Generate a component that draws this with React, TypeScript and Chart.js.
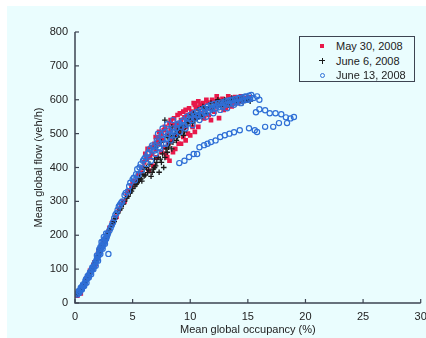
import React, { useEffect, useRef } from "react";
import { Chart, registerables } from "chart.js";

Chart.register(...registerables);

const xTicks = [0, 5, 10, 15, 20, 25, 30];
const yTicks = [0, 100, 200, 300, 400, 500, 600, 700, 800];
const seriesNames = ["May 30, 2008", "June 6, 2008", "June 13, 2008"];

const may30: [number, number][] = [
  [0.2, 22], [0.3, 30], [0.4, 35], [0.5, 28], [0.6, 45], [0.8, 55], [0.9, 62], [1.0, 72], [1.2, 80], [1.3, 95],
  [1.5, 100], [1.7, 120], [1.8, 115], [2.0, 145], [2.2, 160], [2.4, 170], [2.6, 185], [2.8, 200], [3.0, 222], [3.2, 235],
  [3.6, 255], [4.0, 290], [4.3, 300], [4.6, 330], [4.9, 345], [5.2, 360], [5.5, 380], [5.8, 400], [6.0, 415], [6.2, 425],
  [6.4, 390], [6.5, 430], [6.7, 440], [6.8, 405], [7.0, 455], [7.1, 430], [7.3, 470], [7.5, 445], [7.6, 480], [7.8, 460],
  [8.0, 495], [8.1, 470], [8.3, 510], [8.4, 480], [8.6, 525], [8.7, 495], [8.9, 530], [9.0, 505], [9.2, 540], [9.3, 515],
  [9.5, 548], [9.6, 520], [9.8, 555], [10.0, 535], [10.1, 565], [10.3, 545], [10.5, 575], [10.6, 555], [10.8, 580], [11.0, 560],
  [11.1, 590], [11.3, 570], [11.5, 592], [11.7, 575], [12.0, 595], [12.2, 580], [12.4, 600], [12.5, 546], [12.7, 585], [13.0, 598],
  [13.2, 588], [13.5, 605], [13.7, 592], [14.0, 600], [14.2, 607], [14.5, 595], [14.8, 605], [15.0, 600], [8.8, 520], [9.7, 540],
  [10.9, 585], [6.9, 470], [7.4, 490],
  [0.25, 28], [0.45, 38], [0.7, 48], [1.1, 78], [1.4, 98], [1.6, 112], [1.9, 135], [2.1, 155], [2.3, 168], [2.5, 178],
  [2.7, 190], [2.9, 210], [3.3, 240], [3.5, 252], [3.8, 275], [4.2, 300], [4.5, 320], [5.0, 355], [5.4, 365], [5.7, 385],
  [6.1, 440], [6.3, 455], [6.6, 460], [7.2, 480], [7.5, 500], [7.7, 510], [7.9, 440], [8.2, 420], [8.5, 445], [8.2, 530],
  [8.6, 545], [9.0, 470], [9.4, 490], [9.8, 500], [10.2, 520], [9.1, 560], [9.4, 565], [9.9, 575],
  [10.4, 585], [10.7, 595], [11.2, 545], [11.6, 555], [11.9, 600], [12.3, 610], [12.8, 603], [12.9, 570], [13.3, 610], [13.6, 580],
  [13.9, 608], [14.1, 590], [14.4, 610], [14.7, 598], [15.1, 607], [11.4, 600], [12.1, 565], [13.1, 575], [10.7, 520], [11.8, 540],
  [7.0, 490], [7.3, 505], [7.8, 520], [8.3, 540], [8.9, 555], [9.6, 570], [10.3, 590], [8.0, 430], [8.7, 455], [9.2, 470],
  [9.6, 480], [10.0, 495], [10.4, 505],
];

const june6: [number, number][] = [
  [0.3, 30], [0.5, 38], [0.7, 50], [0.9, 60], [1.1, 75], [1.3, 90], [1.5, 98], [1.8, 125], [2.0, 140], [2.3, 165],
  [2.6, 180], [2.9, 205], [3.1, 225], [3.4, 240], [3.7, 265], [4.0, 280], [4.3, 300], [4.6, 315], [4.9, 330], [5.2, 345],
  [5.5, 360], [5.7, 366], [6.0, 375], [6.3, 385], [6.6, 374], [6.8, 395], [7.0, 405], [7.3, 386], [7.5, 415], [7.8, 430],
  [7.8, 540], [8.0, 445], [8.2, 470], [8.4, 455], [8.6, 490], [8.8, 480], [9.0, 500], [9.2, 510], [9.4, 495], [9.6, 520],
  [9.8, 530], [10.0, 540], [10.2, 530], [10.5, 555], [10.8, 560], [11.0, 550], [11.3, 575], [11.6, 580], [11.9, 570], [12.2, 590],
  [12.5, 585], [12.8, 595], [13.1, 590], [13.4, 598], [13.7, 600], [14.0, 595], [14.3, 605], [14.6, 592], [14.9, 600], [15.2, 596],
  [6.2, 400], [7.2, 430], [8.3, 495], [9.1, 520], [10.4, 540],
  [0.2, 25], [0.4, 33], [0.6, 45], [0.8, 56], [1.0, 68], [1.2, 82], [1.4, 95], [1.6, 108], [1.7, 118], [1.9, 132],
  [2.1, 150], [2.2, 158], [2.4, 168], [2.5, 176], [2.7, 188], [2.8, 198], [3.0, 215], [3.3, 235], [3.5, 250], [3.9, 275],
  [4.2, 292], [4.5, 310], [4.8, 325], [5.0, 338], [5.3, 350], [5.6, 370], [5.9, 380],
  [5.4, 355], [5.8, 360], [6.1, 378], [6.4, 392], [6.5, 410], [6.7, 386], [6.9, 400], [7.1, 415], [7.4, 425], [7.6, 440],
  [7.7, 400], [7.9, 455], [8.1, 460], [8.5, 475], [8.7, 500], [8.9, 510], [9.3, 525], [9.5, 505], [9.7, 535], [9.9, 545],
  [7.0, 460], [7.5, 475], [8.0, 490], [8.4, 520], [8.9, 490],
  [10.1, 555], [10.3, 560], [10.6, 545], [10.7, 570], [11.1, 580], [11.4, 560], [11.8, 590], [12.0, 580], [12.4, 600], [12.7, 580],
  [13.0, 600], [13.3, 585], [13.6, 605], [13.9, 600], [14.2, 595], [14.5, 603], [14.8, 598], [15.0, 602],
  [6.0, 395], [6.9, 425],
];

const june13: [number, number][] = [
  [0.2, 25], [0.3, 35], [0.4, 30], [0.5, 45], [0.6, 40], [0.7, 55], [0.8, 50], [0.9, 65], [1.0, 60], [1.1, 80],
  [1.2, 75], [1.3, 90], [1.4, 85], [1.5, 105], [1.6, 100], [1.7, 115], [1.8, 110], [1.9, 130], [2.0, 125], [2.1, 150],
  [2.2, 145], [2.3, 170], [2.4, 160], [2.5, 180], [2.6, 175], [2.7, 190], [2.9, 145], [3.0, 215], [3.2, 230], [3.5, 260],
  [3.8, 285], [4.1, 300], [4.4, 325], [4.7, 345], [5.0, 365], [5.3, 380], [5.6, 400], [5.9, 420], [6.1, 430], [6.4, 445],
  [6.6, 420], [6.8, 460], [7.0, 440], [7.2, 475], [7.4, 455], [7.6, 485], [7.9, 470], [8.1, 500], [8.3, 480], [8.5, 515],
  [8.7, 495], [8.9, 525], [9.1, 505], [9.3, 535], [9.6, 515], [9.9, 545], [10.2, 525], [10.5, 555], [10.8, 540], [11.1, 565],
  [11.4, 550], [11.7, 575], [12.0, 560], [12.3, 582], [12.6, 570], [12.9, 590], [13.2, 575], [13.5, 598], [13.8, 585], [14.1, 603],
  [14.4, 590], [14.7, 608], [15.0, 600], [15.3, 614], [15.5, 605], [15.8, 610], [16.0, 600], [15.7, 563], [16.0, 572], [16.5, 569],
  [16.9, 560], [17.4, 560], [17.9, 557], [18.3, 548], [18.7, 545], [19.0, 549],
  [9.05, 413], [9.5, 420], [9.9, 431], [10.3, 440], [10.6, 440], [10.8, 460], [11.2, 466], [11.5, 470], [11.8, 475], [12.2, 480],
  [12.6, 490], [13.0, 495], [13.4, 500], [13.8, 504], [14.3, 510], [15.1, 516], [15.6, 510], [15.8, 505], [16.5, 520], [17.2, 520],
  [17.7, 531], [18.4, 531],
  [0.25, 28], [0.35, 32], [0.45, 38], [0.55, 42], [0.65, 50], [0.75, 52], [0.85, 58], [0.95, 70], [1.05, 72], [1.15, 78],
  [1.25, 85], [1.35, 92], [1.45, 98], [1.55, 105], [1.65, 108], [1.75, 120], [1.85, 125], [1.95, 135], [2.05, 140], [2.15, 150],
  [2.25, 160], [2.35, 165], [2.45, 172], [2.55, 180], [2.65, 188], [2.75, 195], [2.85, 205], [2.2, 165], [2.4, 180], [2.6, 190],
  [2.8, 200], [2.3, 180], [2.5, 195], [2.7, 205], [1.9, 140], [2.1, 158], [3.1, 222], [3.3, 238], [3.4, 250], [3.6, 265],
  [3.7, 275], [3.9, 290], [4.0, 295], [4.3, 318], [4.6, 330], [4.8, 355], [5.1, 370], [5.2, 362],
  [5.4, 395], [5.5, 378], [5.7, 410], [5.8, 392], [6.0, 425], [6.2, 410], [6.3, 440], [6.5, 455], [6.7, 465], [6.9, 450],
  [7.1, 480], [7.3, 460], [7.5, 495], [7.7, 470], [7.8, 505], [8.0, 485], [8.2, 510], [8.4, 495], [8.6, 505], [8.8, 515],
  [9.0, 530], [9.2, 520], [9.4, 540], [9.5, 525], [9.7, 550], [9.8, 530], [10.0, 555], [10.1, 540],
  [10.3, 560], [10.4, 545], [10.6, 565], [10.7, 550], [10.9, 570], [11.0, 555], [11.2, 575], [11.3, 560], [11.5, 580], [11.6, 568],
  [11.8, 585], [11.9, 572], [12.1, 588], [12.2, 575], [12.4, 590], [12.5, 578], [12.7, 592], [12.8, 580], [13.0, 595], [13.1, 585],
  [13.3, 598], [13.4, 588], [13.6, 600], [13.7, 590], [13.9, 602], [14.0, 592], [14.2, 605], [14.3, 595], [14.5, 607], [14.6, 598],
  [14.8, 610], [14.9, 600], [15.1, 612], [15.2, 602],
  [7.2, 500], [7.6, 515], [8.0, 528], [8.5, 540],
];

const AXIS = "#3d4452";
const TEXT = "#222222";
const RED = "#e8194a";
const BLACK = "#1a1a1a";
const BLUE = "#2f6fd6";
const BG = "#eafdfe";
const FONT = "'Liberation Sans', Arial, sans-serif";

const axisPlugin = {
  id: "axisPlugin",
  afterDraw(chart: any) {
    const { ctx, chartArea, scales } = chart;
    const x = scales.x;
    const y = scales.y;
    ctx.save();
    ctx.strokeStyle = AXIS;
    ctx.lineWidth = 1.5;
    ctx.beginPath();
    ctx.moveTo(chartArea.left, chartArea.top);
    ctx.lineTo(chartArea.left, chartArea.bottom);
    ctx.lineTo(chartArea.right, chartArea.bottom);
    ctx.stroke();
    ctx.lineWidth = 1.2;
    x.ticks.forEach((t: any) => {
      const px = x.getPixelForValue(t.value);
      ctx.beginPath();
      ctx.moveTo(px, chartArea.bottom);
      ctx.lineTo(px, chartArea.bottom - 4);
      ctx.stroke();
    });
    y.ticks.forEach((t: any) => {
      const py = y.getPixelForValue(t.value);
      ctx.beginPath();
      ctx.moveTo(chartArea.left, py);
      ctx.lineTo(chartArea.left + 4, py);
      ctx.stroke();
    });
    ctx.restore();
  },
};

const toPts = (arr: [number, number][]) => arr.map(([x, y]) => ({ x, y }));

export default function App() {
  const ref = useRef<HTMLCanvasElement>(null);
  useEffect(() => {
    document.body.style.margin = "0";
    const chart = new Chart(ref.current!, {
      type: "scatter",
      data: {
        datasets: [
          {
            label: seriesNames[2],
            data: toPts(june13),
            pointStyle: "circle",
            pointRadius: 2.6,
            backgroundColor: "rgba(0,0,0,0)",
            borderColor: BLUE,
            borderWidth: 1.2,
            order: 0,
          },
          {
            label: seriesNames[1],
            data: toPts(june6),
            pointStyle: "cross",
            pointRadius: 2.8,
            backgroundColor: BLACK,
            borderColor: BLACK,
            borderWidth: 1.3,
            order: 1,
          },
          {
            label: seriesNames[0],
            data: toPts(may30),
            pointStyle: "rect",
            pointRadius: 3.3,
            backgroundColor: RED,
            borderColor: RED,
            borderWidth: 0,
            order: 2,
          },
        ],
      },
      options: {
        animation: false,
        responsive: false,
        maintainAspectRatio: false,
        layout: { padding: { left: 28, top: 32, right: 3, bottom: 0 } },
        plugins: { legend: { display: false }, tooltip: { enabled: false } },
        scales: {
          x: {
            type: "linear",
            min: 0,
            max: 30,
            afterBuildTicks: (s: any) => {
              s.ticks = xTicks.map((v) => ({ value: v }));
            },
            afterFit: (s: any) => {
              s.height = 35;
              s.paddingRight = 0;
              s.paddingLeft = 0;
            },
            grid: { display: false, drawTicks: false },
            border: { display: false },
            ticks: { color: TEXT, font: { family: FONT, size: 11 }, padding: 7, maxRotation: 0 },
            title: {
              display: true,
              text: "Mean global occupancy (%)",
              color: TEXT,
              font: { family: FONT, size: 11 },
              padding: { top: 2, bottom: 1 },
            },
          },
          y: {
            type: "linear",
            min: 0,
            max: 800,
            afterBuildTicks: (s: any) => {
              s.ticks = yTicks.map((v) => ({ value: v }));
            },
            afterFit: (s: any) => {
              s.width = 47;
              s.paddingTop = 0;
              s.paddingBottom = 0;
            },
            grid: { display: false, drawTicks: false },
            border: { display: false },
            ticks: { color: TEXT, font: { family: FONT, size: 11 }, padding: 7 },
            title: {
              display: true,
              text: "Mean global flow (veh/h)",
              color: TEXT,
              font: { family: FONT, size: 11 },
              padding: { top: 4, bottom: 4 },
            },
          },
        },
      },
      plugins: [axisPlugin],
    });
    return () => chart.destroy();
  }, []);

  const row = (top: number, marker: React.ReactNode, text: string) => (
    <div style={{ position: "absolute", left: 0, top, height: 15, width: "100%" }}>
      <div style={{ position: "absolute", left: 22, top: 7, width: 0, height: 0 }}>{marker}</div>
      <div
        style={{
          position: "absolute",
          left: 36,
          top: 0,
          fontFamily: FONT,
          fontSize: 11,
          lineHeight: "15px",
          color: TEXT,
          whiteSpace: "nowrap",
        }}
      >
        {text}
      </div>
    </div>
  );

  return (
    <div style={{ position: "relative", width: 426, height: 338, background: "#ffffff", overflow: "hidden" }}>
      <div style={{ position: "absolute", left: 7, top: 6, right: 0, bottom: 0, background: BG }} />
      <canvas ref={ref} width={426} height={338} style={{ position: "absolute", left: 0, top: 0, width: 426, height: 338 }} />
      <div
        style={{
          position: "absolute",
          left: 299,
          top: 36,
          width: 116,
          height: 46,
          border: `1.5px solid ${AXIS}`,
          background: BG,
          boxSizing: "border-box",
        }}
      >
        {row(1.5, <div style={{ position: "absolute", left: -2, top: -2, width: 4, height: 4, background: RED }} />, seriesNames[0])}
        {row(
          16.5,
          <div style={{ position: "absolute", left: -3, top: -3, width: 6, height: 6 }}>
            <div style={{ position: "absolute", left: 2.5, top: 0, width: 1, height: 6, background: BLACK }} />
            <div style={{ position: "absolute", left: 0, top: 2.5, width: 6, height: 1, background: BLACK }} />
          </div>,
          seriesNames[1]
        )}
        {row(
          31,
          <div
            style={{
              position: "absolute",
              left: -2.5,
              top: -2.5,
              width: 5,
              height: 5,
              borderRadius: "50%",
              border: `1px solid ${BLUE}`,
              boxSizing: "border-box",
            }}
          />,
          seriesNames[2]
        )}
      </div>
    </div>
  );
}
